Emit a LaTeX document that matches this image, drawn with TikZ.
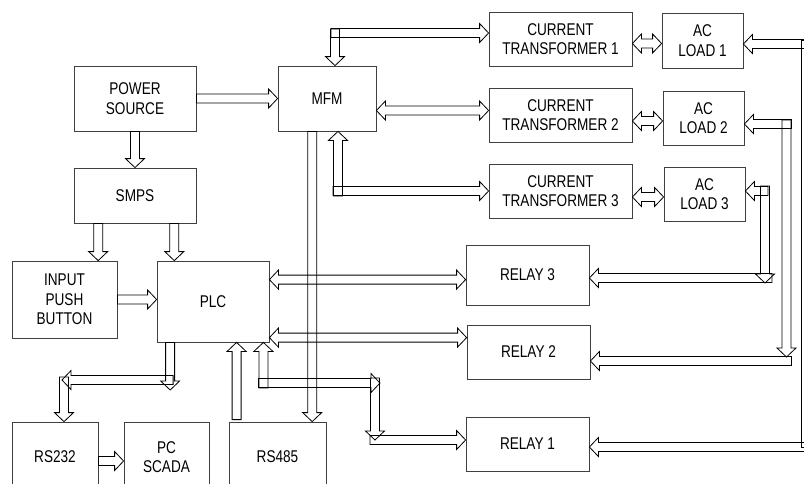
\documentclass[tikz,border=0pt]{standalone}
\usepackage{fontspec}
\setmainfont{Liberation Sans}[FakeStretch=0.8]
\usetikzlibrary{calc}

% sizes of the hollow block arrows
\newcommand\barsw{4.5pt}
\newcommand\barhw{9.5pt}
\newcommand\barhl{9pt}

% hollow arrow from #1 to #2 (head at #2)
\newcommand\blkarrow[2]{%
  \coordinate (bas) at (#1);
  \coordinate (bae) at (#2);
  \coordinate (bah) at ($(bae)!\barhl!(bas)$);
  \draw[bus] ($(bas)!\barsw!90:(bae)$) -- ($(bah)!\barsw!90:(bae)$)
    -- ($(bah)!\barhw!90:(bae)$) -- (bae) -- ($(bah)!\barhw!-90:(bae)$)
    -- ($(bah)!\barsw!-90:(bae)$) -- ($(bas)!\barsw!-90:(bae)$) -- cycle;}

% hollow arrow with heads at both ends
\newcommand\dblarrow[2]{%
  \coordinate (bas) at (#1);
  \coordinate (bae) at (#2);
  \coordinate (bah) at ($(bae)!\barhl!(bas)$);
  \coordinate (bat) at ($(bas)!\barhl!(bae)$);
  \draw[bus] (bas) -- ($(bat)!\barhw!90:(bae)$) -- ($(bat)!\barsw!90:(bae)$)
    -- ($(bah)!\barsw!90:(bae)$) -- ($(bah)!\barhw!90:(bae)$) -- (bae)
    -- ($(bah)!\barhw!-90:(bae)$) -- ($(bah)!\barsw!-90:(bae)$)
    -- ($(bat)!\barsw!-90:(bae)$) -- ($(bat)!\barhw!-90:(bae)$) -- cycle;}

% shaft only, no head
\newcommand\blkshaft[2]{%
  \coordinate (bas) at (#1);
  \coordinate (bae) at (#2);
  \draw[bus] ($(bas)!\barsw!90:(bae)$) -- ($(bae)!\barsw!-90:(bas)$)
    -- ($(bae)!\barsw!90:(bas)$) -- ($(bas)!\barsw!-90:(bae)$) -- cycle;}

\begin{document}
\begin{tikzpicture}[x=1pt, y=-1pt,
  box/.style 2 args={draw=black!75, line width=0.8pt, minimum width=#1pt,
    minimum height=#2pt, inner sep=0pt, align=center,
    font=\fontsize{17}{19.5}\selectfont},
  bus/.style={draw=black, line width=0.8pt, line join=miter}]
  \useasboundingbox (0,0) rectangle (804,483);
  \clip (0,0) rectangle (804,483);

  % 1. blocks
  \node[box={122}{65}] (psrc) at (135,98.5) {POWER\\SOURCE};
  \node[box={122}{55}] (smps) at (135,195.5) {SMPS};
  \node[box={98}{65}] (mfm) at (327,98.5) {MFM};
  \node[box={105}{77}] (ipb) at (64.5,299.5) {INPUT\\PUSH\\BUTTON};
  \node[box={112}{81}] (plc) at (213,301.5) {PLC};
  \node[box={86}{70}] (rs232) at (55,457) {RS232};
  \node[box={85}{70}] (pcs) at (166.5,457) {PC\\SCADA};
  \node[box={97}{70}] (rs485) at (277.5,457) {RS485};

  \node[box={143}{54}] (ct1) at (560.5,39) {CURRENT\\TRANSFORMER 1};
  \node[box={143}{54}] (ct2) at (560.5,115) {CURRENT\\TRANSFORMER 2};
  \node[box={143}{54}] (ct3) at (560.5,191) {CURRENT\\TRANSFORMER 3};
  \node[box={81}{55}] (ac1) at (702.5,40.5) {AC\\LOAD 1};
  \node[box={81}{54}] (ac2) at (703.5,118) {AC\\LOAD 2};
  \node[box={81}{54}] (ac3) at (704.5,194) {AC\\LOAD 3};

  \node[box={123}{60}] (rly3) at (527.5,275) {RELAY 3};
  \node[box={123}{54}] (rly2) at (528.5,352) {RELAY 2};
  \node[box={123}{54}] (rly1) at (527.5,444) {RELAY 1};

  % 2. supply side
  \blkarrow{psrc.east}{mfm.west}
  \blkarrow{psrc.south}{smps.north}
  \coordinate (s1) at ($(smps.south west)!0.2!(smps.south east)$);
  \coordinate (s2) at ($(smps.south west)!0.82!(smps.south east)$);
  \blkarrow{s1}{s1 |- ipb.north}
  \blkarrow{s2}{s2 |- plc.north}
  \blkarrow{ipb.east}{ipb.east -| plc.west}

  % 3. MFM and current transformers
  \coordinate (mt) at (335,33);
  \blkarrow{[yshift=4pt]mt}{mt |- mfm.north}
  \blkarrow{[xshift=-4pt]mt}{mt -| ct1.west}
  \coordinate (m2) at ($(mfm.east)+(0,12)$);
  \dblarrow{m2}{m2 -| ct2.west}
  \coordinate (mb) at (338,191);
  \blkarrow{[yshift=-5pt]mb}{mb |- mfm.south}
  \blkarrow{[xshift=-5pt]mb}{mb -| ct3.west}
  \coordinate (m3) at ($(mfm.south west)!0.35!(mfm.south east)$);
  \blkarrow{m3}{m3 |- rs485.north}

  % CT <-> AC load
  \foreach \i in {1,2,3}{
    \coordinate (c\i) at ($(ac\i.west)+(0,3)$);
    \dblarrow{c\i -| ct\i.east}{c\i}
  }

  % 4. PLC links
  \coordinate (r4) at ($(rs485.north west)+(8,-2)$);
  \blkarrow{r4}{r4 |- plc.south}
  \coordinate (p3) at ($(plc.north east)+(0,19)$);
  \dblarrow{p3}{p3 -| rly3.west}
  \coordinate (p2) at ($(plc.north east)+(0,77)$);
  \dblarrow{p2}{p2 -| rly2.west}

  \coordinate (p1) at ($(plc.south east)+(-6,0)$);
  \coordinate (k1) at (p1 |- 0,383);
  \coordinate (k2) at (375,383);
  \coordinate (k3) at (375,440);
  \blkarrow{[yshift=-5pt]k1}{p1}
  \blkarrow{[xshift=-5pt]k1}{[xshift=5pt]k2}
  \blkarrow{[yshift=5pt]k2}{k3}
  \blkarrow{[xshift=-5pt]k3}{k3 -| rly1.west}

  \coordinate (q1) at ($(plc.south west)!0.12!(plc.south east)$);
  \coordinate (q2) at (q1 |- 0,380);
  \coordinate (q3) at (64,380);
  \blkarrow{q1}{[yshift=-10pt]q2}
  \blkarrow{[xshift=3pt]q2}{[xshift=-2pt]q3}
  \blkarrow{[yshift=3pt]q3}{q3 |- rs232.north}
  \coordinate (r2) at ($(rs232.east)+(0,4)$);
  \blkarrow{r2}{r2 -| pcs.west}

  % 5. feedback from the loads to the relays
  \coordinate (f1) at (806,44);
  \coordinate (g1) at (806,447);
  \blkarrow{[xshift=6pt]f1}{f1 -| ac1.east}
  \blkshaft{[yshift=4pt]f1}{g1}
  \blkarrow{[xshift=6pt]g1}{g1 -| rly1.east}

  \coordinate (f2) at (786.5,124);
  \coordinate (g2) at (786.5,361);
  \blkarrow{[xshift=5pt]f2}{f2 -| ac2.east}
  \blkarrow{[yshift=4pt]f2}{[yshift=4pt]g2}
  \blkarrow{[xshift=5pt]g2}{g2 -| rly2.east}

  \coordinate (f3) at (765,191);
  \coordinate (g3) at (765,278);
  \blkarrow{[xshift=3pt]f3}{f3 -| ac3.east}
  \blkarrow{[yshift=5pt]f3}{[yshift=-5pt]g3}
  \blkarrow{[xshift=7pt]g3}{g3 -| rly3.east}

\end{tikzpicture}
\end{document}
